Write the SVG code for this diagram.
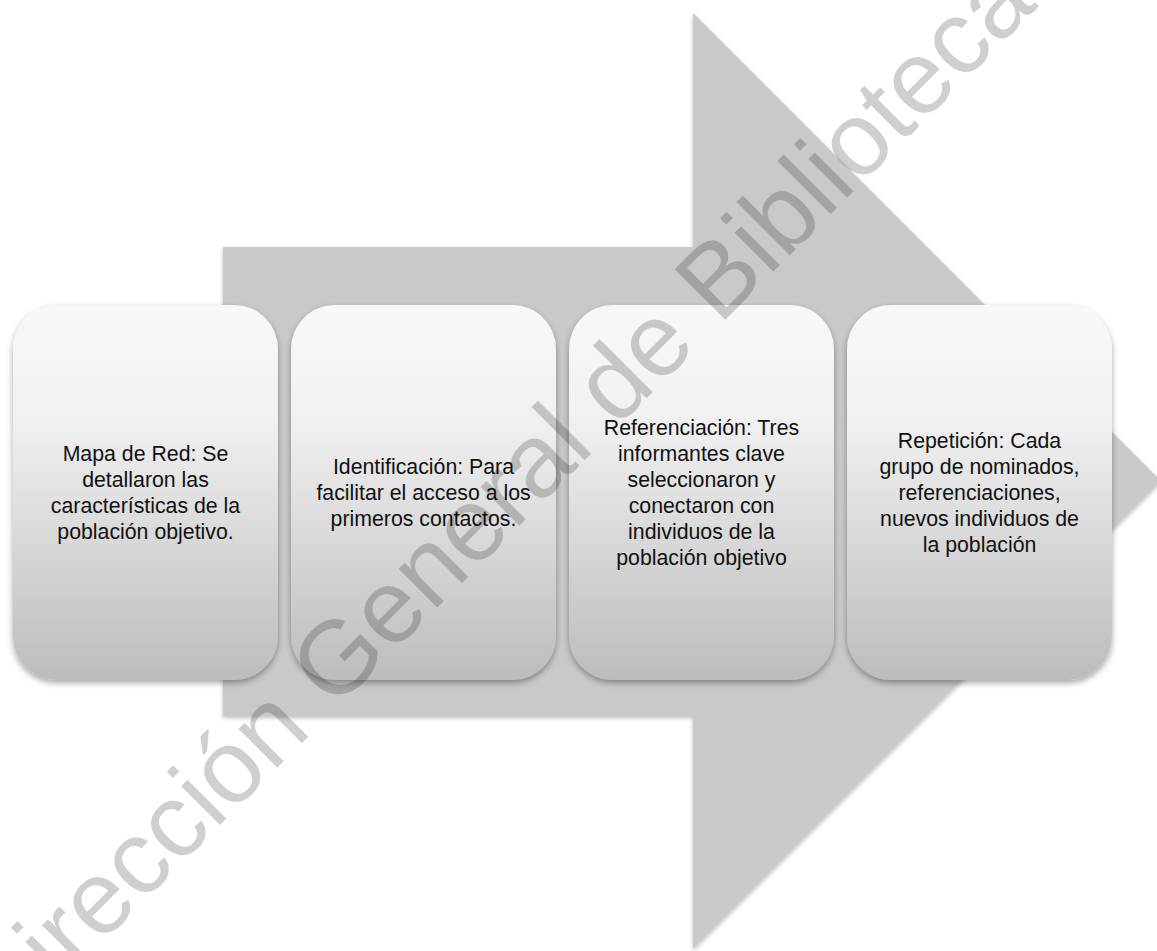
<svg xmlns="http://www.w3.org/2000/svg" width="1157" height="951" viewBox="0 0 1157 951">
  <defs>
    <linearGradient id="boxGrad" x1="0" y1="0" x2="0" y2="1">
      <stop offset="0" stop-color="#f8f8f8"/>
      <stop offset="0.3" stop-color="#f1f1f1"/>
      <stop offset="1" stop-color="#bcbcbc"/>
    </linearGradient>
    <filter id="shadow" x="-10%" y="-10%" width="120%" height="125%">
      <feDropShadow dx="0" dy="3" stdDeviation="3" flood-color="#000" flood-opacity="0.35"/>
    </filter>
    <filter id="arrowShadow" x="-5%" y="-5%" width="110%" height="110%">
      <feDropShadow dx="0" dy="2" stdDeviation="2" flood-color="#000" flood-opacity="0.25"/>
    </filter>
  </defs>
  <style>
    .box { fill: url(#boxGrad); filter: url(#shadow); }
    .lbl { font-family: "Liberation Sans", Arial, sans-serif; font-size: 21.3px; fill: #111; text-anchor: middle; }
    .wm { font-family: "Liberation Sans", Arial, sans-serif; font-size: 104px; fill: #000; fill-opacity: 0.19; }
  </style>
  <rect width="1157" height="951" fill="#ffffff"/>

  <g id="arrow">
    <polygon points="223,247 693,247 693,13 1161,481 693,949 693,716 223,716" fill="#c9c9c9" filter="url(#arrowShadow)"/>
  </g>

  <g id="connectors"></g>

  <g id="node1">
    <rect class="box" x="13" y="305" width="265" height="375" rx="44" ry="44"/>
    <text class="lbl" x="145.5" y="461">Mapa de Red: Se</text>
    <text class="lbl" x="145.5" y="487">detallaron las</text>
    <text class="lbl" x="145.5" y="513">características de la</text>
    <text class="lbl" x="145.5" y="539">población objetivo.</text>
  </g>

  <g id="node2">
    <rect class="box" x="291" y="305" width="265" height="375" rx="44" ry="44"/>
    <text class="lbl" x="423.5" y="474">Identificación: Para</text>
    <text class="lbl" x="423.5" y="500">facilitar el acceso a los</text>
    <text class="lbl" x="423.5" y="526">primeros contactos.</text>
  </g>

  <g id="node3">
    <rect class="box" x="569" y="305" width="265" height="375" rx="44" ry="44"/>
    <text class="lbl" x="701.5" y="435">Referenciación: Tres</text>
    <text class="lbl" x="701.5" y="461">informantes clave</text>
    <text class="lbl" x="701.5" y="487">seleccionaron y</text>
    <text class="lbl" x="701.5" y="513">conectaron con</text>
    <text class="lbl" x="701.5" y="539">individuos de la</text>
    <text class="lbl" x="701.5" y="565">población objetivo</text>
  </g>

  <g id="node4">
    <rect class="box" x="847" y="305" width="265" height="375" rx="44" ry="44"/>
    <text class="lbl" x="979.5" y="448">Repetición: Cada</text>
    <text class="lbl" x="979.5" y="474">grupo de nominados,</text>
    <text class="lbl" x="979.5" y="500">referenciaciones,</text>
    <text class="lbl" x="979.5" y="526">nuevos individuos de</text>
    <text class="lbl" x="979.5" y="552">la población</text>
  </g>

  <g id="watermark">
    <text class="wm" x="6" y="1039" transform="rotate(-45 6 1039)" textLength="1513" lengthAdjust="spacing">Dirección General de Bibliotecas</text>
  </g>
</svg>
